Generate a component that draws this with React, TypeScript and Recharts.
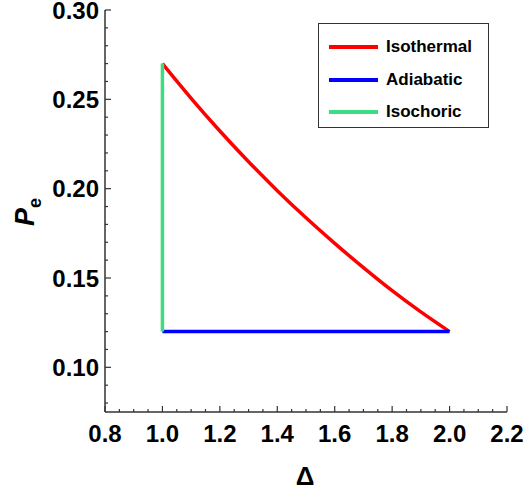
import { LineChart, Line, XAxis, YAxis, Legend } from 'recharts';

// values
const deltaValues = [1.0, 1.1, 1.2, 1.3, 1.4, 1.5, 1.6, 1.7, 1.8, 1.9, 2.0];
const isothermalValues = [0.27, 0.2506, 0.2323, 0.2151, 0.1989, 0.1837, 0.1694, 0.1558, 0.1429, 0.131, 0.12];
const adiabaticDelta = [1.0, 2.0];
const adiabaticValues = [0.12, 0.12];
const isochoricDelta = [1.0, 1.0];
const isochoricValues = [0.12, 0.27];

const xMajorTicks = [0.8, 1.0, 1.2, 1.4, 1.6, 1.8, 2.0, 2.2];
const xMinorTicks = [0.85, 0.9, 0.95, 1.05, 1.1, 1.15, 1.25, 1.3, 1.35, 1.45, 1.5, 1.55, 1.65, 1.7, 1.75, 1.85, 1.9, 1.95, 2.05, 2.1, 2.15];
const yMajorTicks = [0.1, 0.15, 0.2, 0.25, 0.3];
const yMinorTicks = [0.08, 0.09, 0.11, 0.12, 0.13, 0.14, 0.16, 0.17, 0.18, 0.19, 0.21, 0.22, 0.23, 0.24, 0.26, 0.27, 0.28, 0.29];
const xLabels = ['0.8', '1.0', '1.2', '1.4', '1.6', '1.8', '2.0', '2.2'];
const yLabels = ['0.10', '0.15', '0.20', '0.25', '0.30'];

const seriesNames = ['Isothermal', 'Adiabatic', 'Isochoric'];
const seriesColors = ['#ff0000', '#0000ff', '#3ddc7e'];

const isothermalData = deltaValues.map((d, i) => ({ x: d, y: isothermalValues[i] }));
const adiabaticData = adiabaticDelta.map((d, i) => ({ x: d, y: adiabaticValues[i] }));
const isochoricData = isochoricDelta.map((d, i) => ({ x: d, y: isochoricValues[i] }));

const xTicks = [...xMajorTicks, ...xMinorTicks].sort((a, b) => a - b);
const yTicks = [...yMajorTicks, ...yMinorTicks].sort((a, b) => a - b);

const FONT = '"Liberation Sans", Arial, sans-serif';
const AXIS = '#333333';

const majorIndex = (list: number[], v: number) => list.findIndex((m) => Math.abs(m - v) < 1e-9);

function XTick(props: any) {
  const { x, y, payload, top } = props;
  const idx = majorIndex(xMajorTicks, payload.value);
  const len = idx >= 0 ? 6 : 3;
  const dir = top ? 1 : -1;
  return (
    <g>
      <line x1={x} x2={x} y1={y} y2={y + dir * len} stroke={AXIS} strokeWidth={1.2} />
      {!top && idx >= 0 && (
        <text x={x} y={y + 30} textAnchor="middle" fontFamily={FONT} fontWeight="bold" fontSize={24} fill="#000">
          {xLabels[idx]}
        </text>
      )}
    </g>
  );
}

function YTick(props: any) {
  const { x, y, payload, right } = props;
  const idx = majorIndex(yMajorTicks, payload.value);
  const len = idx >= 0 ? 6 : 3;
  const dir = right ? -1 : 1;
  return (
    <g>
      <line x1={x} x2={x + dir * len} y1={y} y2={y} stroke={AXIS} strokeWidth={1.2} />
      {!right && idx >= 0 && (
        <text x={x - 6} y={y} dy="0.36em" textAnchor="end" fontFamily={FONT} fontWeight="bold" fontSize={24} fill="#000">
          {yLabels[idx]}
        </text>
      )}
    </g>
  );
}

function LegendBox() {
  return (
    <div
      style={{
        boxSizing: 'border-box',
        width: 171,
        height: 105,
        border: '1px solid #333',
        background: '#fff',
        padding: '7px 0 0 10px',
        fontFamily: FONT,
        fontWeight: 'bold',
        fontSize: 17,
      }}
    >
      {seriesNames.map((name, i) => (
        <div key={name} style={{ display: 'flex', alignItems: 'center', height: 32.5 }}>
          <div style={{ width: 49, height: 4, background: seriesColors[i], marginRight: 8 }} />
          <span>{name}</span>
        </div>
      ))}
    </div>
  );
}

function YLabel(props: any) {
  return (
    <text
      x={0}
      y={0}
      transform="translate(34, 212) rotate(-90)"
      textAnchor="middle"
      fontFamily={FONT}
      fontWeight="bold"
      fontStyle="italic"
      fontSize={27}
      fill="#000"
    >
      P
      <tspan fontSize={18} dy={7} fontStyle="normal">e</tspan>
    </text>
  );
}

function XLabel() {
  return (
    <text x={305} y={485} textAnchor="middle" fontFamily={FONT} fontWeight="bold" fontSize={26} fill="#000">
      Δ
    </text>
  );
}

export default function App() {
  return (
    <div style={{ position: 'absolute', left: 0, top: 0, width: 528, height: 492, background: '#fff' }}>
      <LineChart width={528} height={492} margin={{ top: 10, right: 21, left: 0, bottom: 0 }}>
        <XAxis
          dataKey="x"
          type="number"
          domain={[0.8, 2.2]}
          ticks={xTicks}
          interval={0}
          allowDataOverflow
          height={80}
          tickSize={0}
          tickMargin={0}
          tickLine={false}
          axisLine={{ stroke: AXIS, strokeWidth: 1.5 }}
          tick={<XTick />}
          label={<XLabel />}
        />
        <XAxis
          xAxisId="top"
          orientation="top"
          dataKey="x"
          type="number"
          domain={[0.8, 2.2]}
          ticks={xTicks}
          interval={0}
          allowDataOverflow
          height={0}
          tickSize={0}
          tickMargin={0}
          tickLine={false}
          axisLine={{ stroke: AXIS, strokeWidth: 1.5 }}
          tick={<XTick top />}
        />
        <YAxis
          type="number"
          domain={[0.075, 0.3]}
          ticks={yTicks}
          interval={0}
          allowDataOverflow
          width={105}
          tickSize={0}
          tickMargin={0}
          tickLine={false}
          axisLine={{ stroke: AXIS, strokeWidth: 1.5 }}
          tick={<YTick />}
          label={<YLabel />}
        />
        <YAxis
          yAxisId="right"
          orientation="right"
          type="number"
          domain={[0.075, 0.3]}
          ticks={yTicks}
          interval={0}
          allowDataOverflow
          width={0}
          tickSize={0}
          tickMargin={0}
          tickLine={false}
          axisLine={{ stroke: AXIS, strokeWidth: 1.5 }}
          tick={<YTick right />}
        />
        <Legend
          layout="vertical"
          align="center"
          verticalAlign="middle"
          content={<LegendBox />}
          wrapperStyle={{ left: 318, top: 23, width: 171, height: 105 }}
        />
        <Line
          data={isothermalData}
          dataKey="y"
          name={seriesNames[0]}
          type="monotone"
          stroke={seriesColors[0]}
          strokeWidth={3.5}
          dot={false}
          isAnimationActive={false}
        />
        <Line
          data={adiabaticData}
          dataKey="y"
          name={seriesNames[1]}
          type="linear"
          stroke={seriesColors[1]}
          strokeWidth={3.5}
          dot={false}
          isAnimationActive={false}
        />
        <Line
          data={isochoricData}
          dataKey="y"
          name={seriesNames[2]}
          type="linear"
          stroke={seriesColors[2]}
          strokeWidth={3.5}
          dot={false}
          isAnimationActive={false}
        />
      </LineChart>
    </div>
  );
}
